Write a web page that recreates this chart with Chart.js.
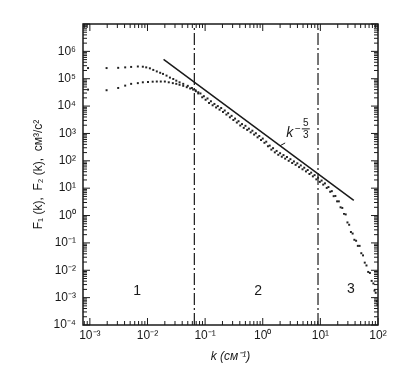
<!DOCTYPE html>
<html>
<head>
<meta charset="utf-8">
<script src="https://cdn.jsdelivr.net/npm/chart.js@4.4.0/dist/chart.umd.min.js"></script>
<style>
  html, body { margin: 0; background: #fff; }
  #caixa { width: 404px; height: 368px; }
</style>
</head>
<body>
<div id="caixa"><canvas id="grafico"></canvas></div>
<script>
// Dados: espectros F1(k) e F2(k)
const kSerie1 = [0.00093, 0.00195, 0.0031, 0.0041, 0.0052, 0.0068, 0.0083, 0.0095, 0.011, 0.0126,
  0.0145, 0.0166, 0.0186, 0.0214, 0.0245, 0.028, 0.0316, 0.036, 0.0417, 0.05, 0.059, 0.068, 0.076,
  0.083, 0.095, 0.11, 0.126, 0.145, 0.166, 0.19, 0.219, 0.251, 0.288, 0.331, 0.38, 0.437, 0.501,
  0.575, 0.661, 0.759, 0.871, 1.0, 1.15, 1.32, 1.51, 1.74, 2.0, 2.29, 2.63, 3.02, 3.47, 3.98, 4.57,
  5.25, 6.03, 6.92, 7.94, 9.12, 10.5, 12.0, 13.8, 15.8, 18.2, 20.9, 24.0, 27.5, 31.6, 36.3, 41.7,
  47.9, 55.0, 63.1, 72.4, 83.2, 91.2, 98];
const F1 = [2.45e5, 2.45e5, 2.5e5, 2.6e5, 2.7e5, 2.8e5, 2.75e5, 2.6e5, 2.4e5, 2.1e5,
  1.85e5, 1.65e5, 1.5e5, 1.3e5, 1.1e5, 9.8e4, 8.5e4, 7.4e4, 6.5e4, 5.5e4, 4.6e4, 3.8e4, 3.2e4,
  2.9e4, 2.3e4, 1.9e4, 1.5e4, 1.2e4, 1.0e4, 8.5e3, 6.9e3, 5.5e3, 4.4e3, 3.5e3, 2.8e3, 2.2e3, 1.9e3,
  1.5e3, 1.26e3, 1.02e3, 810, 650, 500, 360, 290, 230, 190, 162, 138, 115, 95, 81, 68,
  56, 46, 37, 30, 24, 19, 15, 11, 7.8, 5.2, 3.3, 1.9, 1.1, 0.46, 0.22, 0.12,
  0.078, 0.035, 0.015, 0.008, 0.0033, 0.0015, 5.5e-4];

const kSerie2 = [0.00093, 0.00195, 0.0031, 0.0041, 0.0052, 0.0068, 0.0083, 0.0102, 0.0123, 0.0145,
  0.017, 0.02, 0.0234, 0.0275, 0.0316, 0.036, 0.0417, 0.048, 0.055, 0.062, 0.069, 0.076,
  0.089, 0.102, 0.117, 0.135, 0.155, 0.178, 0.204, 0.234, 0.269, 0.309, 0.355, 0.407, 0.468, 0.537,
  0.617, 0.708, 0.813, 0.933, 1.07, 1.23, 1.41, 1.62, 1.86, 2.14, 2.45, 2.82, 3.24, 3.72, 4.27, 4.9,
  5.62, 6.46, 7.41, 8.51, 9.77, 11.2, 12.9, 14.8, 17.0, 19.5, 22.4, 25.7, 29.5, 33.9, 38.9, 44.7,
  51.3, 58.9, 67.6, 77.6, 87.1, 95.5];
const F2 = [4.0e4, 3.8e4, 4.6e4, 5.6e4, 6.5e4, 6.9e4, 7.4e4, 7.6e4, 7.8e4, 7.9e4,
  7.9e4, 7.9e4, 7.4e4, 6.9e4, 6.5e4, 6.0e4, 5.5e4, 4.9e4, 4.4e4, 4.0e4, 3.5e4, 2.9e4,
  2.1e4, 1.7e4, 1.3e4, 1.07e4, 8.9e3, 7.4e3, 6.1e3, 4.9e3, 3.9e3, 3.1e3, 2.5e3, 1.95e3, 1.6e3, 1.35e3,
  1.1e3, 910, 720, 575, 455, 340, 257, 204, 166, 141, 120, 100, 83, 71, 59, 49,
  41, 33, 27, 21, 17, 13.5, 10.2, 7.4, 5.1, 3.3, 2.0, 1.15, 0.56, 0.25, 0.13, 0.078,
  0.042, 0.019, 0.0087, 0.0041, 0.0018, 7.4e-4];

// Reta k^(-5/3)
const retaK = [0.019, 38];
const retaF = [5.1e5, 3.6];

// Fronteiras das regiões 1, 2, 3
const fronteirasK = [0.065, 9.1];
const regioesTexto = ['1', '2', '3'];
const regioesK = [0.0066, 0.83, 34];
const regioesF = [1.7e-3, 1.7e-3, 2.1e-3];

// Rótulos dos eixos
const xTicks = [1e-3, 1e-2, 1e-1, 1e0, 1e1, 1e2];
const xTickLabels = ['10⁻³', '10⁻²', '10⁻¹', '10⁰', '10¹', '10²'];
const yTicks = [1e-4, 1e-3, 1e-2, 1e-1, 1e0, 1e1, 1e2, 1e3, 1e4, 1e5, 1e6];
const yTickLabels = ['10⁻⁴', '10⁻³', '10⁻²', '10⁻¹', '10⁰', '10¹', '10²', '10³', '10⁴', '10⁵', '10⁶'];

// Posição do texto "k^-5/3" e da linha de chamada
const rotuloK = [2.95, 1050];
const chamadaInicio = [2.45, 450];
const chamadaFim = [2.0, 357];

const cor = '#1a1a1a';
const fonte = '"Liberation Sans", Arial, sans-serif';

function pares(xs, ys) {
  return xs.map((x, i) => ({ x: x, y: ys[i] }));
}

// Plugin: moldura com marcas internas, textos das regiões e rótulo da reta
const molduraPlugin = {
  id: 'moldura',
  afterDraw(chart) {
    const { ctx, chartArea: a, scales: { x, y } } = chart;
    ctx.save();
    ctx.strokeStyle = cor;
    ctx.lineWidth = 1.5;
    ctx.strokeRect(a.left, a.top, a.right - a.left, a.bottom - a.top);

    ctx.lineWidth = 1;
    ctx.beginPath();
    for (let e = -4; e <= 7; e++) {
      for (let m = 1; m <= 9; m++) {
        const v = m * Math.pow(10, e);
        const len = m === 1 ? 7 : 4;
        if (v >= x.min && v <= x.max) {
          const px = x.getPixelForValue(v);
          ctx.moveTo(px, a.bottom); ctx.lineTo(px, a.bottom - len);
          ctx.moveTo(px, a.top); ctx.lineTo(px, a.top + len);
        }
        if (v >= y.min && v <= y.max) {
          const py = y.getPixelForValue(v);
          ctx.moveTo(a.left, py); ctx.lineTo(a.left + len, py);
          ctx.moveTo(a.right, py); ctx.lineTo(a.right - len, py);
        }
      }
    }
    ctx.stroke();

    // Números das regiões
    ctx.fillStyle = cor;
    ctx.font = '14px ' + fonte;
    ctx.textAlign = 'center';
    ctx.textBaseline = 'middle';
    regioesTexto.forEach((t, i) => {
      ctx.fillText(t, x.getPixelForValue(regioesK[i]), y.getPixelForValue(regioesF[i]));
    });

    // Rótulo k^-5/3
    const lx = x.getPixelForValue(rotuloK[0]);
    const ly = y.getPixelForValue(rotuloK[1]);
    ctx.font = 'italic 14px ' + fonte;
    ctx.fillText('k', lx, ly);
    ctx.font = '10px ' + fonte;
    ctx.fillText('−', lx + 8, ly - 4);
    ctx.fillText('5', lx + 16, ly - 10);
    ctx.fillText('3', lx + 16, ly + 2);
    ctx.beginPath();
    ctx.moveTo(lx + 12, ly - 4); ctx.lineTo(lx + 20, ly - 4);
    ctx.moveTo(x.getPixelForValue(chamadaInicio[0]), y.getPixelForValue(chamadaInicio[1]));
    ctx.lineTo(x.getPixelForValue(chamadaFim[0]), y.getPixelForValue(chamadaFim[1]));
    ctx.stroke();
    ctx.restore();
  }
};

const pontos = {
  type: 'scatter',
  pointStyle: 'rect',
  pointRadius: 1.4,
  pointBorderWidth: 0,
  backgroundColor: '#222',
  borderColor: '#222',
  showLine: false
};

const tracejado = {
  type: 'line',
  borderColor: cor,
  borderWidth: 1.2,
  borderDash: [12, 3, 2, 3],
  pointRadius: 0,
  fill: false
};

new Chart(document.getElementById('grafico'), {
  data: {
    datasets: [
      Object.assign({ label: 'F1', data: pares(kSerie1, F1) }, pontos),
      Object.assign({ label: 'F2', data: pares(kSerie2, F2) }, pontos),
      { type: 'line', label: 'k^-5/3', data: pares(retaK, retaF), borderColor: cor, borderWidth: 1.5, pointRadius: 0, fill: false },
      Object.assign({ label: 'b1', data: [{ x: fronteirasK[0], y: 1e-4 }, { x: fronteirasK[0], y: 1e7 }] }, tracejado),
      Object.assign({ label: 'b2', data: [{ x: fronteirasK[1], y: 1e-4 }, { x: fronteirasK[1], y: 1e7 }] }, tracejado)
    ]
  },
  options: {
    responsive: true,
    maintainAspectRatio: false,
    animation: false,
    layout: { padding: { top: 24, right: 26, left: 0, bottom: 0 } },
    plugins: { legend: { display: false }, tooltip: { enabled: false } },
    scales: {
      x: {
        type: 'logarithmic',
        min: 0.00076,
        max: 100,
        afterBuildTicks: s => { s.ticks = xTicks.map(v => ({ value: v })); },
        afterFit: s => { s.height = 43; },
        grid: { display: false, drawTicks: false },
        border: { display: false },
        ticks: {
          autoSkip: false, maxRotation: 0, padding: 3, color: cor,
          font: { family: fonte, size: 12 },
          callback: (v, i) => xTickLabels[i]
        },
        title: {
          display: true, text: 'k (см⁻¹)', color: cor,
          font: { family: fonte, size: 12, style: 'italic' },
          padding: { top: 0, bottom: 4 }
        }
      },
      y: {
        type: 'logarithmic',
        min: 1e-4,
        max: 1e7,
        afterBuildTicks: s => { s.ticks = yTicks.map(v => ({ value: v })); },
        afterFit: s => { s.width = 83; },
        grid: { display: false, drawTicks: false },
        border: { display: false },
        ticks: {
          autoSkip: false, padding: 7, color: cor,
          font: { family: fonte, size: 12 },
          callback: (v, i) => yTickLabels[i]
        },
        title: {
          display: true, text: 'F₁ (k),  F₂ (k),  см³/с²', color: cor,
          font: { family: fonte, size: 12 },
          padding: { top: 31, bottom: 0 }
        }
      }
    }
  },
  plugins: [molduraPlugin]
});
</script>
</body>
</html>
